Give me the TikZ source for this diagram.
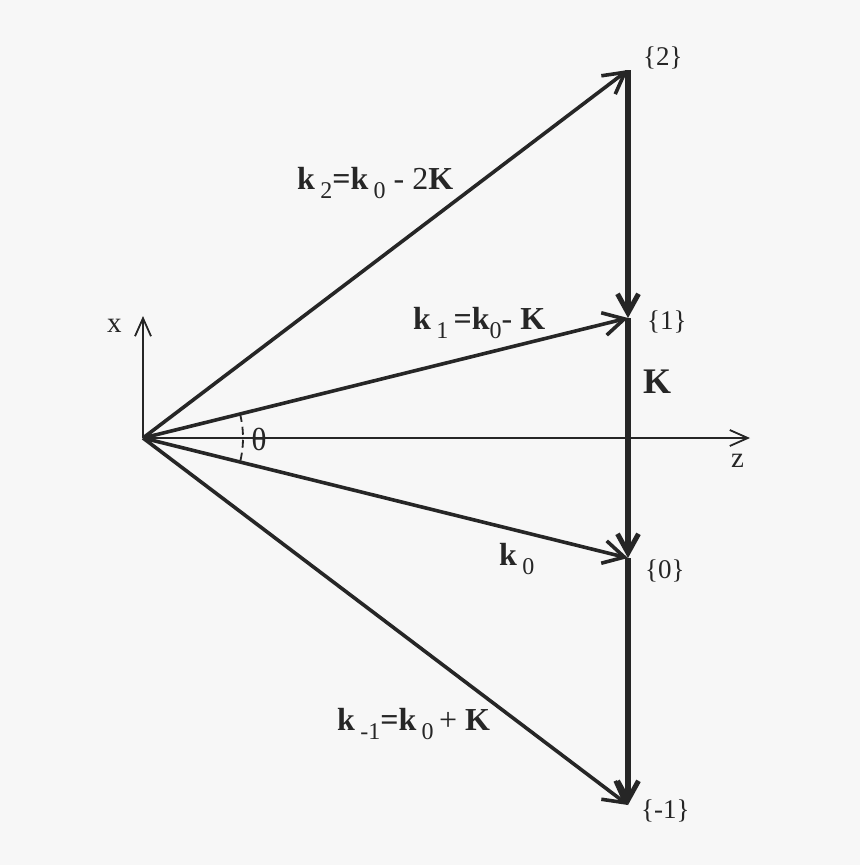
\documentclass[tikz,border=0pt]{standalone}
\usepackage{fontspec}
\setmainfont{Liberation Serif}
\usetikzlibrary{arrows.meta}
\definecolor{ink}{HTML}{262626}
\definecolor{bg}{HTML}{F7F7F7}
\newcommand{\lsub}[1]{\raisebox{-9pt}{\fontsize{24}{24}\selectfont\mdseries #1}}
\begin{document}
\begin{tikzpicture}[x=1pt,y=-1pt,
  vec/.style={draw=ink,line width=3.6pt,-{Straight Barb[length=21pt,width=23pt]}},
  kvec/.style={draw=ink,line width=6pt,-{Straight Barb[length=19pt,width=21pt,line width=5pt]}},
  axis/.style={draw=ink,line width=1.8pt,-{Straight Barb[length=18pt,width=16pt]}},
  lab/.style={anchor=base west,inner sep=0pt,text=ink,font=\fontsize{32}{32}\selectfont},
  ord/.style={anchor=base west,inner sep=0pt,text=ink,font=\fontsize{27}{27}\selectfont},
  ax/.style={anchor=base west,inner sep=0pt,text=ink,font=\fontsize{29}{29}\selectfont}]
\fill[bg] (0,0) rectangle (860,865);
\useasboundingbox (0,0) rectangle (860,865);
\coordinate (O) at (143,438);
\coordinate (X) at (143,316);
\coordinate (Z) at (750,438);
\coordinate (P2) at (628,70);
\coordinate (P1) at (628,318);
\coordinate (P0) at (628,558);
\coordinate (Pm) at (628,805);
% axes
\draw[axis] (O) -- (X);
\draw[axis] (O) -- (Z);
% angle
\draw[ink,line width=1.8pt,dash pattern=on 8pt off 5pt] (O) ++(-13.9:100) arc[start angle=-13.9,end angle=13.9,radius=100];
% vectors
\draw[vec] (O) -- (P2);
\draw[vec] (O) -- (P1);
\draw[vec] (O) -- (P0);
\draw[vec] (O) -- (Pm);
% K line
\draw[kvec] (P2) -- (P1);
\draw[kvec] (P1) -- (P0);
\draw[kvec] (P0) -- (Pm);
% labels
\node[ax] (xl) at (107,332) {x};
\node[ax] (zl) at (731,467) {z};
\node[ax,anchor=center,font=\fontsize{32}{32}\selectfont] (th) at (259,439) {θ};
\node[ord] (l2) at (643,65) {\{2\}};
\node[ord] (l1) at (647,329) {\{1\}};
\node[ord] (l0) at (645,578) {\{0\}};
\node[ord] (lm) at (641,818) {\{-1\}};
\node[lab,font=\fontsize{36}{36}\selectfont\bfseries] (Kl) at (643,393) {K};
\node[lab] (k2) at (297,189) {\textbf{k}\,\lsub{2}\textbf{=k}\,\lsub{0} - 2\textbf{K}};
\node[lab] (k1) at (413,329) {\textbf{k}\,\lsub{1}\,\textbf{=k}\lsub{0}- \textbf{K}};
\node[lab] (k0) at (499,565) {\textbf{k}\,\lsub{0}};
\node[lab] (km) at (337,730) {\textbf{k}\,\lsub{-1}\textbf{=k}\,\lsub{0}\,+ \textbf{K}};
\end{tikzpicture}
\end{document}
